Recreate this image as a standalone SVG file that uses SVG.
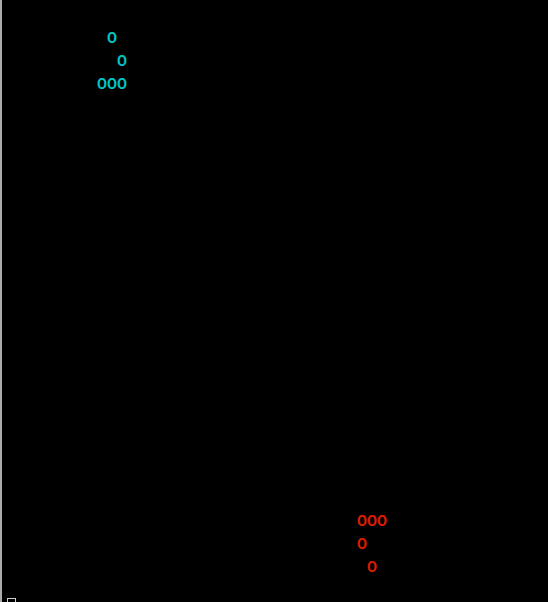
<svg xmlns="http://www.w3.org/2000/svg" width="548" height="602" viewBox="0 0 548 602">
<style>
.t{font-family:Roboto,"Liberation Sans",Arial,sans-serif;font-size:14.5px;font-weight:bold}
.c{fill:#00c4c8}
.r{fill:#dd1c00}
</style>
<rect x="0" y="0" width="548" height="602" fill="#000"/>
<line x1="1" y1="0" x2="1" y2="602" stroke="#e6e6e6" stroke-width="1.5"/>
<rect x="7.5" y="598.5" width="8" height="6" fill="none" stroke="#cfcfcf" stroke-width="1"/>
<g id="glider-cyan">
<text class="t c" x="107" y="42.8">O</text>
<text class="t c" x="117" y="65.8">O</text>
<text class="t c" x="97" y="88.8">OOO</text>
</g>
<g id="glider-red">
<text class="t r" x="357" y="525.8">OOO</text>
<text class="t r" x="357" y="548.8">O</text>
<text class="t r" x="367" y="571.8">O</text>
</g>
</svg>
